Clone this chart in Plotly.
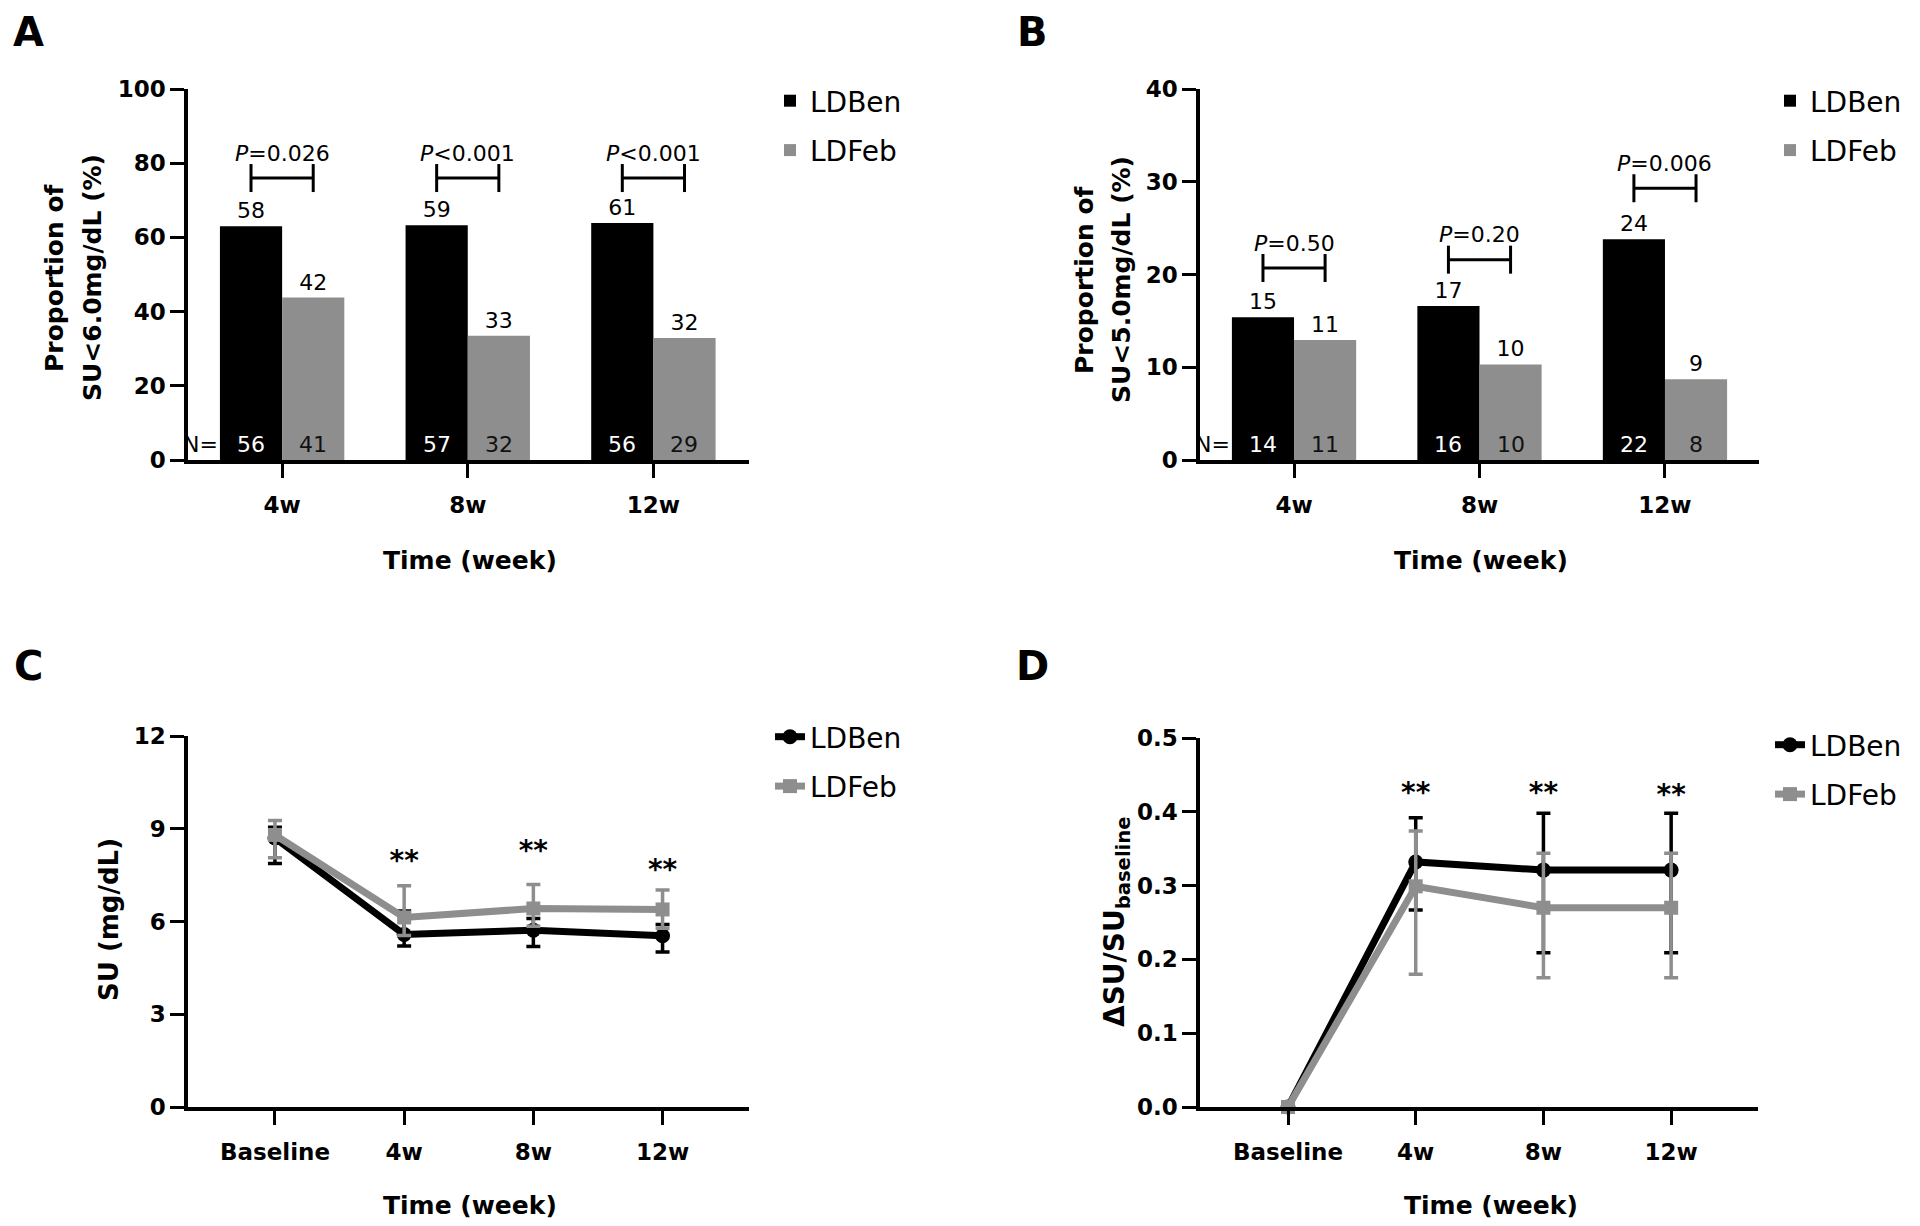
import plotly.graph_objects as go

FONT = "DejaVu Sans"
BLACK = "#000000"
GREY = "#8e8e8e"
W, H = 1920, 1226
PAD_X, PAD_Y = 4, 8  # page offset of the plot inside the written html page

weeks = ["4w", "8w", "12w"]
time_points = ["Baseline", "4w", "8w", "12w"]
groups = ["LDBen", "LDFeb"]

# panel A: proportion SU < 6.0 mg/dL
a_ben = [63.0, 63.3, 63.9]
a_feb = [43.8, 33.5, 32.9]
a_ben_top = ["58", "59", "61"]
a_feb_top = ["42", "33", "32"]
a_ben_n = ["56", "57", "56"]
a_feb_n = ["41", "32", "29"]
a_p = ["=0.026", "<0.001", "<0.001"]
a_bracket = [76, 76, 76]

# panel B: proportion SU < 5.0 mg/dL
b_ben = [15.4, 16.6, 23.8]
b_feb = [12.95, 10.3, 8.7]
b_ben_top = ["15", "17", "24"]
b_feb_top = ["11", "10", "9"]
b_ben_n = ["14", "16", "22"]
b_feb_n = ["11", "10", "8"]
b_p = ["=0.50", "=0.20", "=0.006"]
b_bracket = [20.7, 21.6, 29.3]

# panel C: SU (mg/dL), centre with upper / lower bar ends
c_ben = [8.70, 5.58, 5.72, 5.54]
c_ben_hi = [9.05, 6.34, 6.10, 5.90]
c_ben_lo = [7.88, 5.21, 5.19, 5.01]
c_feb = [8.80, 6.13, 6.42, 6.39]
c_feb_hi = [9.27, 7.16, 7.20, 7.02]
c_feb_lo = [8.06, 5.55, 5.85, 5.78]
c_star_y = [7.9, 8.2, 7.6]

# panel D: delta SU / SU baseline
d_ben = [0.0, 0.332, 0.321, 0.321]
d_ben_hi = [0.0, 0.392, 0.398, 0.398]
d_ben_lo = [0.0, 0.267, 0.209, 0.209]
d_feb = [0.0, 0.299, 0.270, 0.270]
d_feb_hi = [0.0, 0.374, 0.344, 0.344]
d_feb_lo = [0.0, 0.180, 0.175, 0.175]
d_star_y = [0.423, 0.423, 0.42]


def px(x):
    return (x - PAD_X) / W


def py(y):
    return 1 - (y - PAD_Y) / H


fig = go.Figure()
annotations = []
BAR_OFF = 0.1675


def bar_panel(n, ben, feb, ben_top, feb_top, ben_n, feb_n, pvals, brackets, legend):
    xa = "x" if n == 1 else f"x{n}"
    ya = "y" if n == 1 else f"y{n}"
    idx = list(range(len(weeks)))
    for name, vals, top, col, grp in [
        (groups[0], ben, ben_top, BLACK, "g1"),
        (groups[1], feb, feb_top, GREY, "g2"),
    ]:
        fig.add_trace(go.Bar(
            x=idx, y=vals, name=name, marker=dict(color=col, line=dict(width=0)),
            text=top, textposition="outside", cliponaxis=False,
            textfont=dict(family=FONT, size=22, color=BLACK),
            xaxis=xa, yaxis=ya, legend=legend, legendgroup=grp + legend,
            hoverinfo="skip",
        ))
    # significance brackets
    for i, by in enumerate(brackets):
        fig.add_trace(go.Scatter(
            x=[i - BAR_OFF, i + BAR_OFF], y=[by, by], mode="lines+markers",
            line=dict(color=BLACK, width=3),
            marker=dict(symbol="line-ns", size=20, line=dict(width=3, color=BLACK)),
            xaxis=xa, yaxis=ya, showlegend=False, hoverinfo="skip", cliponaxis=False,
        ))
        annotations.append(dict(
            x=i, y=by, xref=xa, yref=ya, yshift=25, showarrow=False,
            xanchor="center", yanchor="middle",
            text=f"<i>P</i>{pvals[i]}", font=dict(family=FONT, size=22, color=BLACK),
        ))
    # N counts at the bar bases
    for i in idx:
        annotations.append(dict(
            x=i - BAR_OFF, y=0, xref=xa, yref=ya, yshift=16, showarrow=False,
            xanchor="center", yanchor="middle",
            text=ben_n[i], font=dict(family=FONT, size=22, color="white"),
        ))
        annotations.append(dict(
            x=i + BAR_OFF, y=0, xref=xa, yref=ya, yshift=16, showarrow=False,
            xanchor="center", yanchor="middle",
            text=feb_n[i], font=dict(family=FONT, size=22, color="#111111"),
        ))
    annotations.append(dict(
        x=-2 * BAR_OFF, y=0, xref=xa, yref=ya, yshift=16, xanchor="right",
        yanchor="middle", showarrow=False, text="N=",
        font=dict(family=FONT, size=22, color=BLACK),
    ))


def err(mid, hi, lo):
    return dict(type="data", symmetric=False,
                array=[h - m for h, m in zip(hi, mid)],
                arrayminus=[m - l for m, l in zip(mid, lo)])


def line_panel(n, ben, ben_hi, ben_lo, feb, feb_hi, feb_lo, star_y, legend):
    xa = f"x{n}"
    ya = f"y{n}"
    idx = list(range(len(time_points)))
    for name, mid, hi, lo, col, sym, size in [
        (groups[0], ben, ben_hi, ben_lo, BLACK, "circle", 15),
        (groups[1], feb, feb_hi, feb_lo, GREY, "square", 14),
    ]:
        e = err(mid, hi, lo)
        e.update(color=col, thickness=3.5, width=7)
        fig.add_trace(go.Scatter(
            x=idx, y=mid, name=name, mode="lines+markers",
            line=dict(color=col, width=7),
            marker=dict(symbol=sym, size=size, color=col),
            error_y=e, xaxis=xa, yaxis=ya, legend=legend,
            legendgroup=name + legend, cliponaxis=False, hoverinfo="skip",
        ))
    fig.add_trace(go.Scatter(
        x=idx[1:], y=star_y, mode="text", text=["**"] * len(star_y),
        textfont=dict(family=FONT, size=28, color=BLACK, weight="bold"),
        xaxis=xa, yaxis=ya, showlegend=False, hoverinfo="skip", cliponaxis=False,
    ))


bar_panel(1, a_ben, a_feb, a_ben_top, a_feb_top, a_ben_n, a_feb_n, a_p, a_bracket, "legend")
bar_panel(2, b_ben, b_feb, b_ben_top, b_feb_top, b_ben_n, b_feb_n, b_p, b_bracket, "legend2")
line_panel(3, c_ben, c_ben_hi, c_ben_lo, c_feb, c_feb_hi, c_feb_lo, c_star_y, "legend3")
line_panel(4, d_ben, d_ben_hi, d_ben_lo, d_feb, d_feb_hi, d_feb_lo, d_star_y, "legend4")

tick_font = dict(family=FONT, size=23, color=BLACK, weight="bold")


def xaxis(left, right, rng, labels, anchor):
    return dict(
        domain=[px(left), px(right)], range=rng, anchor=anchor,
        tickvals=list(range(len(labels))), ticktext=labels,
        showline=True, linecolor=BLACK, linewidth=3.5, ticks="outside",
        ticklen=14, tickwidth=3, tickcolor=BLACK, tickfont=tick_font,
        ticklabelstandoff=8, showgrid=False, zeroline=False, fixedrange=True,
        automargin=False,
    )


def yaxis(top, bottom, rng, dtick, anchor, fmt=None):
    d = dict(
        domain=[py(bottom), py(top)], range=rng, anchor=anchor, dtick=dtick,
        showline=True, linecolor=BLACK, linewidth=3.5, ticks="outside",
        ticklen=14, tickwidth=3, tickcolor=BLACK, tickfont=tick_font,
        showgrid=False, zeroline=False, fixedrange=True, automargin=False,
    )
    if fmt:
        d["tickformat"] = fmt
    return d


def legend_box(x, y):
    return dict(
        x=px(x), y=py(y), xanchor="left", yanchor="top", bgcolor="rgba(0,0,0,0)",
        font=dict(family=FONT, size=28, color=BLACK), tracegroupgap=10,
        itemwidth=30, traceorder="grouped",
    )


for text, x, y, ang, size in [
    ("Proportion of", 50, 278, -90, 25),
    ("SU&lt;6.0mg/dL (%)", 88, 278, -90, 25),
    ("Proportion of", 1080, 280, -90, 25),
    ("SU&lt;5.0mg/dL (%)", 1117, 280, -90, 25),
    ("SU (mg/dL)", 105, 920, -90, 26),
    ("ΔSU/SU<sub>baseline</sub>", 1112, 922, -90, 28),
    ("Time (week)", 466, 560, 0, 25),
    ("Time (week)", 1477, 560, 0, 25),
    ("Time (week)", 466, 1205, 0, 25),
    ("Time (week)", 1487, 1205, 0, 25),
]:
    annotations.append(dict(
        x=px(x), y=py(y), xref="paper", yref="paper", showarrow=False,
        xanchor="center", yanchor="middle", text=text, textangle=ang,
        font=dict(family=FONT, size=size, color=BLACK, weight="bold"),
    ))

for text, x, y in [("A", 24, 32), ("B", 1028, 32), ("C", 24, 666), ("D", 1028, 666)]:
    annotations.append(dict(
        x=px(x), y=py(y), xref="paper", yref="paper", showarrow=False,
        xanchor="center", yanchor="middle",
        text=text, font=dict(family=FONT, size=40, color=BLACK, weight="bold"),
    ))

fig.update_layout(
    width=W, height=H, margin=dict(l=0, r=0, t=0, b=0, autoexpand=False),
    paper_bgcolor="white", plot_bgcolor="white",
    barmode="group", bargap=0.33, bargroupgap=0,
    font=dict(family=FONT, color=BLACK),
    xaxis=xaxis(184, 745, [-0.507, 2.515], weeks, "y"),
    yaxis=yaxis(89, 460, [0, 100], 20, "x"),
    xaxis2=xaxis(1196, 1755, [-0.507, 2.507], weeks, "y2"),
    yaxis2=yaxis(89, 460, [0, 40], 10, "x2"),
    xaxis3=xaxis(184, 745, [-0.673, 3.669], time_points, "y3"),
    yaxis3=yaxis(736, 1107, [0, 12], 3, "x3"),
    xaxis4=xaxis(1196, 1754, [-0.689, 3.68], time_points, "y4"),
    yaxis4=yaxis(738, 1107, [0, 0.5], 0.1, "x4", ".1f"),
    legend=legend_box(766, 76),
    legend2=legend_box(1766, 76),
    legend3=legend_box(766, 712),
    legend4=legend_box(1766, 720),
    annotations=annotations,
)

fig.write_html("out.html")
